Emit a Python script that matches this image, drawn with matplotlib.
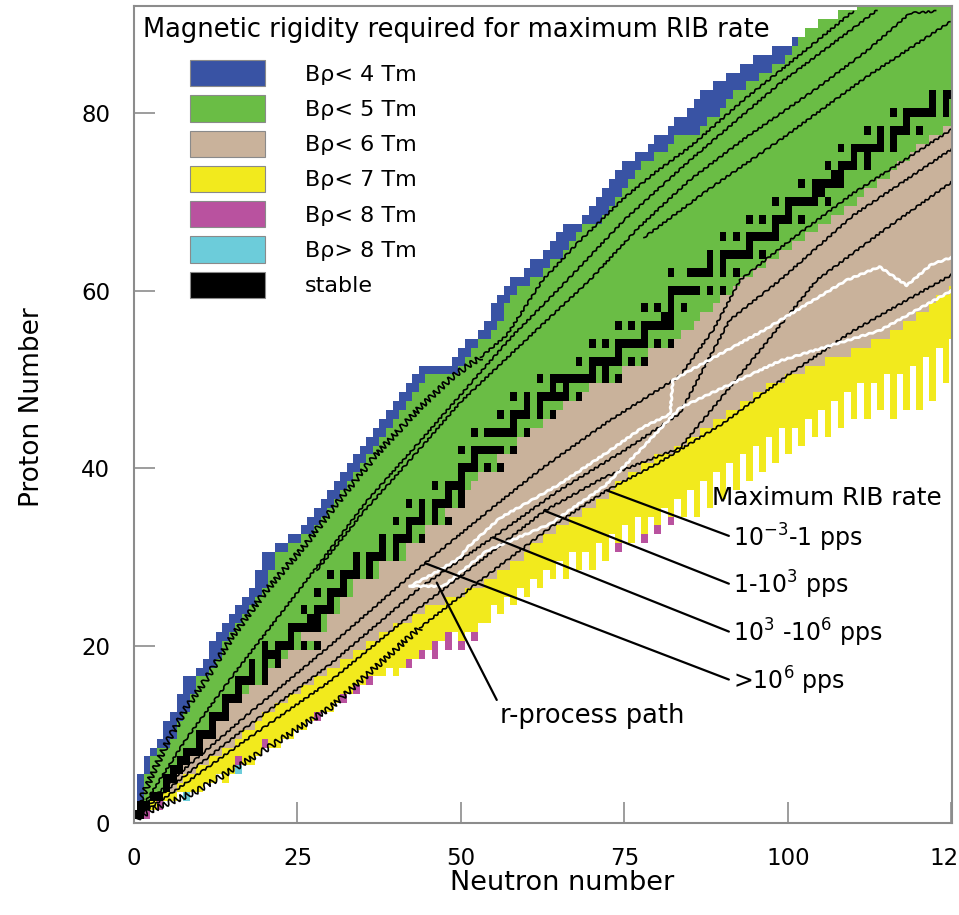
import numpy as np
import matplotlib
matplotlib.use("Agg")
import matplotlib.pyplot as plt
from matplotlib.colors import ListedColormap
from matplotlib.patches import Patch

# proton number of each row
z_rows = list(range(1, 93))

# per row: first N of each colour band (blue, green, tan, yellow)
n_blue = [0, 1, 1, 1, 1, 2, 2, 3, 4, 5, 5, 6, 7, 7, 8, 8, 10, 11, 12, 12,
          13, 14, 15, 16, 17, 18, 19, 19, 20, 20, 22, 24, 26, 27, 28, 29, 30, 31, 32, 33,
          34, 35, 36, 37, 38, 39, 40, 41, 42, 43, 44, 49, 50, 51, 53, 54, 55, 55, 56, 57,
          58, 60, 61, 63, 64, 65, 66, 69, 70, 71, 72, 73, 74, 75, 77, 79, 80, 82, 83, 85,
          86, 87, 89, 91, 93, 95, 98, 101, 103, 105, 108, 111]
n_green = [1, 2, 2, 2, 2, 3, 3, 4, 6, 7, 7, 8, 9, 9, 10, 10, 12, 13, 14, 14,
           15, 16, 17, 18, 19, 20, 21, 21, 22, 22, 24, 26, 28, 29, 30, 31, 32, 33, 34, 35,
           36, 37, 38, 39, 40, 41, 42, 43, 44, 45, 50, 51, 52, 53, 55, 56, 57, 57, 58, 59,
           61, 63, 64, 66, 67, 68, 69, 72, 73, 74, 75, 76, 77, 78, 80, 82, 83, 87, 88, 90,
           91, 92, 94, 96, 98, 100, 101, 102, 103, 105, 108, 111]
n_tan = [2, 3, 5, 6, 7, 8, 9, 11, 11, 13, 13, 15, 15, 17, 18, 21, 21, 23, 24, 29,
         26, 30, 30, 32, 32, 34, 34, 38, 38, 42, 42, 45, 45, 49, 48, 51, 51, 52, 53, 57,
         56, 59, 59, 61, 63, 65, 66, 69, 70, 75, 75, 79, 79, 83, 84, 86, 87, 89, 90, 92,
         93, 95, 97, 99, 101, 103, 105, 107, 109, 111, 112, 114, 116, 117, 119, 120, 122, 124, 126, 127,
         128, 128, 128, 128, 128, 128, 128, 128, 128, 128, 128, 128]
n_yellow = [2, 3, 5, 7, 8, 10, 12, 14, 16, 17, 19, 20, 22, 24, 26, 28, 30, 32, 34, 36,
            38, 40, 43, 45, 48, 51, 54, 56, 58, 60, 61, 63, 65, 67, 69, 71, 73, 74, 76, 78,
            80, 83, 85, 87, 89, 91, 93, 95, 97, 100, 103, 106, 110, 113, 116, 118, 120, 122, 123, 125,
            127, 130, 130, 130, 130, 130, 130, 130, 130, 130, 130, 130, 130, 130, 130, 130, 130, 130, 130, 130,
            130, 130, 130, 130, 130, 130, 130, 130, 130, 130, 130, 130]

# per neutron column N = 0..125: lowest Z reached (neutron-rich edge)
z_bottom = [1, 1, 1, 2, 2, 3, 3, 4, 3, 4, 4, 5, 5, 6, 5, 6, 6, 7, 7, 8,
            9, 9, 9, 10, 10, 11, 11, 12, 12, 13, 13, 14, 14, 15, 15, 16, 16, 17, 17, 18,
            17, 18, 18, 19, 19, 20, 19, 21, 20, 22, 20, 22, 21, 23, 23, 25, 24, 26, 25, 27,
            26, 28, 27, 29, 28, 30, 28, 31, 29, 31, 29, 32, 30, 33, 31, 34, 32, 35, 32, 35,
            33, 36, 34, 37, 35, 38, 35, 39, 36, 40, 37, 41, 38, 42, 39, 43, 40, 44, 41, 45,
            42, 45, 43, 46, 44, 47, 44, 48, 45, 49, 46, 50, 46, 50, 47, 51, 46, 51, 47, 52,
            47, 53, 48, 54, 50, 55]

mag_n = [2, 4, 16, 20, 28, 32, 34, 36, 42, 44, 46, 46, 48, 48, 50, 52, 74, 78, 80, 82]
mag_z = [1, 2, 7, 9, 12, 14, 15, 16, 18, 19, 19, 20, 20, 21, 20, 21, 31, 32, 33, 34]
cyan_n = [8, 16]
cyan_z = [3, 6]

stable = {
    1: [0, 1], 2: [1, 2], 3: [3, 4], 4: [5], 5: [5, 6], 6: [6, 7], 7: [7, 8], 8: [8, 9, 10],
    9: [10], 10: [10, 11, 12], 11: [12], 12: [12, 13, 14], 13: [14], 14: [14, 15, 16],
    15: [16], 16: [16, 17, 18, 20], 17: [18, 20], 18: [18, 20, 22], 19: [20, 21, 22],
    20: [20, 22, 23, 24, 26, 28], 21: [24], 22: [24, 25, 26, 27, 28], 23: [27, 28],
    24: [26, 28, 29, 30], 25: [30], 26: [28, 30, 31, 32], 27: [32], 28: [30, 32, 33, 34, 36],
    29: [34, 36], 30: [34, 36, 37, 38, 40], 31: [38, 40], 32: [38, 40, 41, 42, 44], 33: [42],
    34: [40, 42, 43, 44, 46, 48], 35: [44, 46], 36: [42, 44, 46, 47, 48, 50], 37: [48, 50],
    38: [46, 48, 49, 50], 39: [50], 40: [50, 51, 52, 54, 56], 41: [52],
    42: [50, 52, 53, 54, 55, 56, 58], 44: [52, 54, 55, 56, 57, 58, 60], 45: [58],
    46: [56, 58, 59, 60, 62, 64], 47: [60, 62], 48: [58, 60, 62, 63, 64, 65, 66, 68],
    49: [64, 66], 50: [62, 64, 65, 66, 67, 68, 69, 70, 72, 74], 51: [70, 72],
    52: [68, 70, 71, 72, 73, 74, 76, 78], 53: [74], 54: [70, 72, 74, 75, 76, 77, 78, 80, 82],
    55: [78], 56: [74, 76, 78, 79, 80, 81, 82], 57: [81, 82], 58: [78, 80, 82, 84], 59: [82],
    60: [82, 83, 84, 85, 86, 88, 90], 62: [82, 85, 86, 87, 88, 90, 92], 63: [88, 90],
    64: [88, 90, 91, 92, 93, 94, 96], 65: [94], 66: [90, 92, 94, 95, 96, 97, 98], 67: [98],
    68: [94, 96, 98, 99, 100, 102], 69: [100], 70: [98, 100, 101, 102, 103, 104, 106],
    71: [104, 105], 72: [102, 104, 105, 106, 107, 108], 73: [107, 108],
    74: [106, 108, 109, 110, 112], 75: [110, 112], 76: [108, 110, 111, 112, 113, 114, 116],
    77: [114, 116], 78: [112, 114, 116, 117, 118, 120], 79: [118],
    80: [116, 118, 119, 120, 121, 122, 124], 81: [122, 124], 82: [122, 124, 125, 126], 83: [126],
}

# contour lines, proton-rich side (p1 low part is the loopy one)
p1a_n = [1, 2.5, 5, 8, 10.6, 15, 20, 25.8, 31, 37, 43.7, 49, 53]
p1a_z = [2.5, 5, 9, 13, 15.7, 21, 26, 31, 36, 41.5, 46.8, 50.5, 52.5]
p1b_n = [53, 57, 62.5, 68, 75, 80, 85, 93.7, 100, 110]
p1b_z = [52.5, 55, 61.2, 65.5, 70.5, 73.5, 76.2, 81.8, 85.5, 91.5]
p2_n = [1, 8, 16, 25.4, 35.6, 43.7, 52, 58, 66, 75, 85, 98.8, 113.6]
p2_z = [1.5, 9.5, 17.5, 26.4, 36.3, 43, 50, 55, 61, 68, 74.7, 83.4, 91.6]
p3_n = [28, 35, 42.2, 50, 60, 69.7, 77, 85, 94, 104, 112, 118.7, 122.6]
p3_z = [28.5, 35, 40.9, 47.5, 54.5, 61.2, 67, 72.5, 77.5, 82.6, 87, 91.3, 91.5]
p4_n = [78, 88, 98.8, 112, 124.8]
p4_z = [66, 71.5, 77, 84.1, 90.3]

# contour lines, neutron-rich side (>1e6, 1e3-1e6, 1-1e3, 1e-3-1 pps)
c1_n = [1, 6, 17, 30, 44.5, 54.9, 62.6, 72.8, 83.5, 88.6, 92.7, 100, 110, 125.5]
c1_z = [1.5, 5, 12, 20, 29.3, 35.6, 40.1, 45.4, 50.4, 55.6, 61.2, 65.5, 71, 78.4]
c2_n = [1, 6, 17, 30, 43.7, 54.9, 65, 75, 83.5, 87.5, 91.1, 98.8, 110, 125.5]
c2_z = [1.2, 4.3, 10.7, 17.9, 26.5, 32.2, 37.5, 42, 46.2, 51.8, 56.7, 61.2, 68.5, 76.2]
c3_n = [1, 6, 17, 30, 43.7, 52, 62.8, 72, 83.5, 90.1, 96.2, 104.4, 115, 125.5]
c3_z = [1, 3.5, 9.3, 16, 24.3, 29, 35.2, 39, 42.3, 48.2, 53.7, 61.2, 67, 72.5]
c4a_n = [0.5, 2.4, 9.6, 19.7, 30, 43.7]
c4a_z = [0.5, 1.4, 3.6, 8.1, 13, 22]
c4b_n = [43.7, 55, 64, 72.3, 80, 90, 100, 110, 125.5]
c4b_z = [22, 28.5, 33.5, 37.5, 40.5, 45, 50.5, 55.5, 62]

# r-process path
r1_n = [42.2, 45.8, 49.8, 50.9, 56, 60.6, 65.1, 72.8, 77.8, 82, 82.4, 85, 96.2, 109, 114, 118.2, 122, 126]
r1_z = [26.7, 28.1, 29.9, 31, 34.4, 36.3, 38.2, 42, 44.6, 46.1, 49.9, 51, 55.5, 61.2, 62.7, 60.6, 63, 64]
r2_n = [42.2, 47.3, 54, 63.6, 72, 78, 83.5, 98.8, 114, 126]
r2_z = [26.7, 26.7, 30.7, 33.7, 38, 42.5, 46.8, 52.1, 55.5, 60.4]

colors = ['#3953A4', '#6ABD45', '#C9B29B', '#F2EA1D', '#B9529F', '#6CCCDA', '#000000']
labels = ['Bρ< 4 Tm', 'Bρ< 5 Tm', 'Bρ< 6 Tm', 'Bρ< 7 Tm', 'Bρ< 8 Tm', 'Bρ> 8 Tm', 'stable']

# build the chart grid: code per (Z, N)
grid = np.full((93, len(z_bottom)), -1)
for i, z in enumerate(z_rows):
    for n in range(n_blue[i], len(z_bottom)):
        if z < z_bottom[n]:
            continue
        if n < n_green[i]:
            grid[z, n] = 0
        elif n < n_tan[i]:
            grid[z, n] = 1
        elif n < n_yellow[i]:
            grid[z, n] = 2
        else:
            grid[z, n] = 3
for n, z in zip(mag_n, mag_z):
    grid[z, n] = 4
for n, z in zip(cyan_n, cyan_z):
    grid[z, n] = 5
for z, ns in stable.items():
    for n in ns:
        if n < grid.shape[1]:
            grid[z, n] = 6

fig = plt.figure(figsize=(9.59, 9.15), dpi=100)
ax = fig.add_axes([0.1397, 0.1005, 0.8530, 0.8929])

ax.imshow(np.ma.masked_less(grid, 0), cmap=ListedColormap(colors), vmin=-0.5, vmax=6.5,
          origin='lower', interpolation='nearest', aspect='auto',
          extent=(-0.5, grid.shape[1] - 0.5, -0.5, 92.5))

for ln_n, ln_z, wig in [(p1a_n, p1a_z, 3.0), (p1b_n, p1b_z, 1.0), (p2_n, p2_z, 0.9),
                        (p3_n, p3_z, 0.9), (p4_n, p4_z, 0.9), (c1_n, c1_z, 0.9),
                        (c2_n, c2_z, 0.9), (c3_n, c3_z, 0.9), (c4a_n, c4a_z, 3.0),
                        (c4b_n, c4b_z, 0.9)]:
    ln, = ax.plot(ln_n, ln_z, color='black', lw=1.2)
    ln.set_sketch_params(wig, 7, 2)

for ln_n, ln_z in [(r1_n, r1_z), (r2_n, r2_z)]:
    ln, = ax.plot(ln_n, ln_z, color='white', lw=2.0)
    ln.set_sketch_params(0.6, 8, 2)

# legend
ax.text(0.011, 0.9706, 'Magnetic rigidity required for maximum RIB rate', transform=ax.transAxes,
        fontsize=18.5, ha='left', va='center')
handles = [Patch(facecolor=c, edgecolor='#8a8a8a', lw=0.8) for c in colors]
ax.legend(handles, labels, loc='upper left', bbox_to_anchor=(0.068, 0.934), frameon=False,
          fontsize=16, handlelength=3.4, handleheight=1.45, handletextpad=1.8,
          labelspacing=0.4, borderpad=0, borderaxespad=0)

# rate annotations
ax.text(88.4, 36.6, 'Maximum RIB rate', fontsize=17.8, ha='left', va='center')
rate_labels = ['10$^{-3}$-1 pps', '1-10$^3$ pps', '10$^3$ -10$^6$ pps', '>10$^6$ pps']
rate_targets = [(72.3, 37.5), (62.8, 35.2), (54.9, 32.2), (44.5, 29.3)]
rate_text_z = [32.2, 26.8, 21.4, 16.0]
for lab, (tn, tz), yz in zip(rate_labels, rate_targets, rate_text_z):
    ax.annotate(lab, xy=(tn, tz), xytext=(91.6, yz), fontsize=17, ha='left', va='center',
                arrowprops=dict(arrowstyle='-', lw=1.6, color='black', relpos=(0, 0.5),
                                shrinkA=1, shrinkB=0))
ax.annotate('r-process path', xy=(46.3, 27.1), xytext=(56.0, 12.1), fontsize=18.5, ha='left', va='center',
            arrowprops=dict(arrowstyle='-', lw=1.6, color='black', relpos=(0, 0.85),
                            shrinkA=1, shrinkB=0))

ax.set_xlim(0, 125.1)
ax.set_ylim(0, 92.1)
ax.set_xticks([0, 25, 50, 75, 100, 125])
ax.set_yticks([0, 20, 40, 60, 80])
ax.tick_params(direction='in', length=15, width=1.2, color='#8c8c8c', labelsize=16.5, pad=17)
for sp in ax.spines.values():
    sp.set_color('#8c8c8c')
    sp.set_linewidth(1.5)
ax.set_xlabel('Neutron number', fontsize=19.5)
ax.set_ylabel('Proton Number', fontsize=19)
ax.xaxis.set_label_coords(0.523, -0.058)
ax.yaxis.set_label_coords(-0.109, 0.509)

fig.savefig('out.png', dpi=100)
